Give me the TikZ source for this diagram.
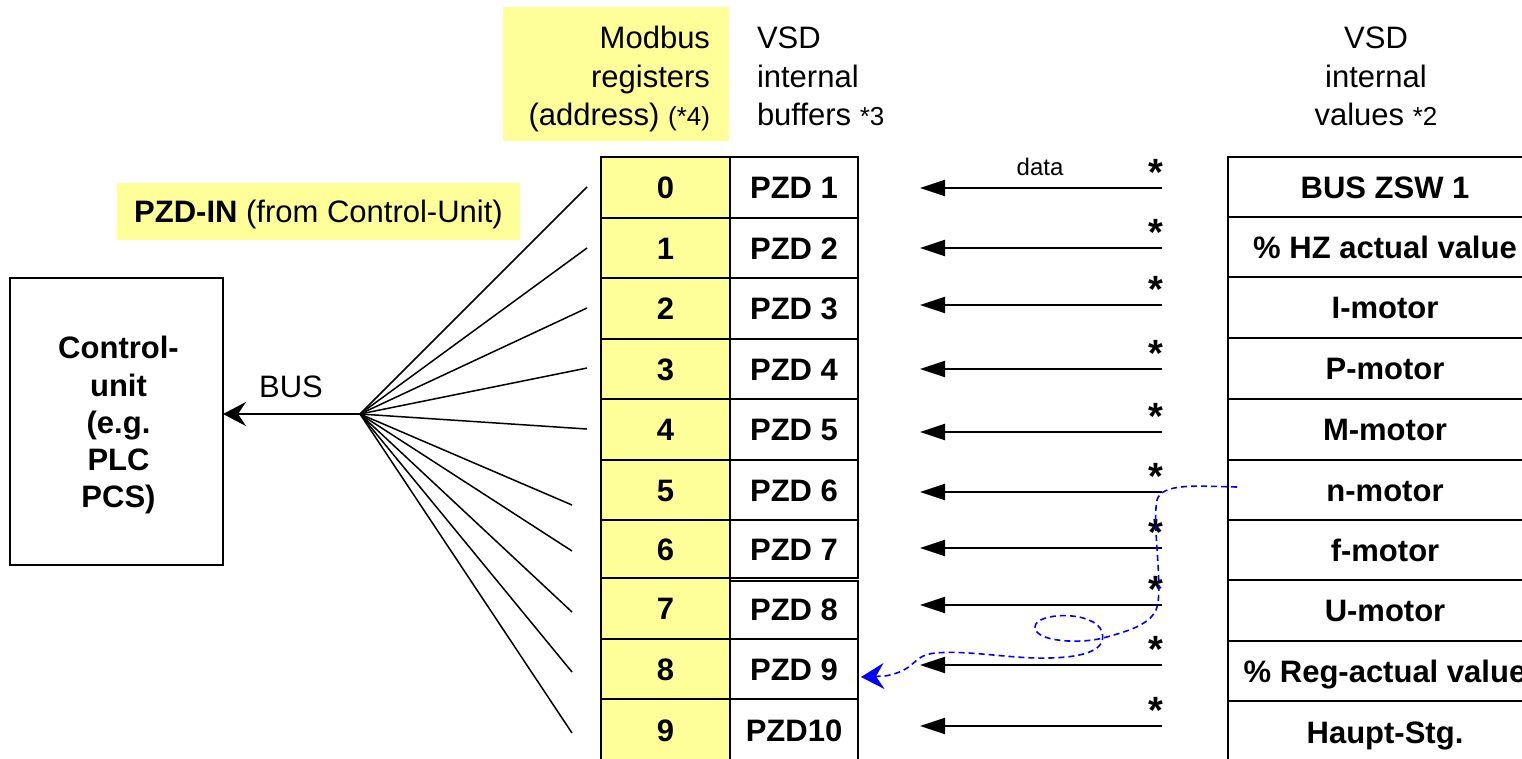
\documentclass[tikz,border=0pt]{standalone}
\usepackage{fontspec}
\setmainfont{Liberation Sans}
\usetikzlibrary{arrows.meta,calc}
\definecolor{yel}{RGB}{255,255,153}
\definecolor{bluec}{RGB}{0,0,255}
\begin{document}
\begin{tikzpicture}[x=1pt,y=-1pt,
  every node/.style={inner sep=0pt, outer sep=0pt},
  bigfont/.style={font=\fontsize{31}{38.5}\selectfont},
  tbl/.style={draw, line width=2pt, font=\bfseries\fontsize{31}{37}\selectfont, text height=22.3pt, text depth=0pt, anchor=north west},
  numcell/.style={tbl, fill=yel, minimum width=129},
  pzdcell/.style={tbl, fill=white, minimum width=128},
  valcell/.style={tbl, fill=white, minimum width=314},
  capc/.style={text height=22.3pt, text depth=0pt},
  fanline/.style={line width=1.5pt},
  dataarrow/.style={line width=2pt, -{Triangle[length=25pt,width=16pt]}},
  busarrow/.style={line width=2pt, -{Stealth[length=23pt,width=24pt,inset=8pt]}},
  bluepath/.style={bluec, line width=1.6pt, dash pattern=on 6pt off 4pt, -{Stealth[length=23pt,width=26pt,inset=8pt]}},
  star/.style={font=\bfseries\fontsize{38}{38}\selectfont, anchor=base}
]
\clip (0,0) rectangle (1522,758);
\fill[white] (0,0) rectangle (1522,758);

% headers
\fill[yel] (503,7) rectangle (729,141);
\node[bigfont, align=right, anchor=east] (hdrA) at (710,79)
  {Modbus\\registers\\(address) {\fontsize{26}{26}\selectfont(*4)}};
\node[bigfont, align=left, anchor=west] (hdrB) at (757,76.5)
  {VSD\\internal\\buffers {\fontsize{26}{26}\selectfont*3}};
\node[bigfont, align=center] (hdrC) at (1376,76.5)
  {VSD\\internal\\values {\fontsize{26}{26}\selectfont*2}};

% PZD-IN label
\node[fill=yel, bigfont, capc, minimum width=403, minimum height=57] (pzdin) at (318.5,211.5)
  {\textbf{PZD-IN} (from Control-Unit)};

% control unit
\node[draw, line width=2pt, minimum width=213, minimum height=287] (ctrl) at (116.5,421.5) {};
\node[align=center, font=\bfseries\fontsize{31}{37.2}\selectfont] (ctrltext) at ($(ctrl.center)+(2,3.8)$)
  {Control-\\unit\\(e.g.\\PLC\\PCS)};

% left table: addresses
\foreach \i/\t/\h in {0/157/61,1/218/60,2/278/61,3/339/60,4/399/61,5/460/60,6/520/58,7/578/61,8/639/60,9/699/62}
  \node[numcell, minimum height=\h] (n\i) at (601,\t) {\i};
% left table: PZD buffers
\foreach \i/\t/\h/\lab in {0/157/61/PZD 1,1/218/60/PZD 2,2/278/61/PZD 3,3/339/60/PZD 4,4/399/61/PZD 5,5/460/60/PZD 6,6/520/58/PZD 7,7/580.5/58.5/PZD 8,8/639/60/PZD 9,9/699/62/PZD10}
  \node[pzdcell, minimum height=\h] (p\i) at (730,\t) {\lab};

% right table: internal values
\foreach \i/\t/\h/\lab in {0/157/60/BUS ZSW 1,1/217/60/\% HZ actual value,2/277/61/I-motor,3/338/61/P-motor,4/399/61/M-motor,5/460/60/n-motor,6/520/60/f-motor,7/580/61/U-motor,8/641/60/\% Reg-actual value,9/701/62/Haupt-Stg.}
  \node[valcell, minimum height=\h] (v\i) at (1228,\t) {\lab};

% data arrows and asterisks
\foreach \i/\y in {0/188,1/248,2/305,3/369,4/432,5/492,6/548,7/605,8/665,9/726}{
  \coordinate (s\i) at (1162,\y);
  \coordinate (e\i) at (920,\y);
  \draw[dataarrow] (s\i) -- (e\i);
  \node[star] (st\i) at ($(s\i)+(-6,-3)$) {*};
}
\node[font=\fontsize{24}{24}\selectfont, text height=17.2pt, text depth=0pt] (data) at (1040,166.5) {data};

% fan of bus lines
\coordinate (hub) at (360,414);
\foreach \i/\x/\y in {0/587/187,1/587/248,2/587/308,3/587/368,4/587/429,5/572/505,6/572/551,7/572/612,8/572/672,9/572/733}{
  \coordinate (f\i) at (\x,\y);
  \draw[fanline] (hub) -- (f\i);
}
\draw[busarrow] (hub) -- (hub -| ctrl.east);
\node[bigfont, capc] (bus) at (291,386) {BUS};

% blue dashed path from n-motor to PZD 9
\coordinate (bs) at ($(v5.west)+(9,-3)$);
\coordinate (bt) at ($(p8.east)+(3,8)$);
\draw[bluepath] (bs)
  .. controls (1195,486) and (1162,483) .. (1157,500)
  .. controls (1152,525) and (1163,585) .. (1157,607)
  .. controls (1152,625) and (1125,632) .. (1103,638)
  .. controls (1080,644) and (1035,642) .. (1035,627)
  .. controls (1035,612) and (1095,610) .. (1102,632)
  .. controls (1107,650) and (1085,657) .. (1050,658)
  .. controls (1010,659) and (970,650) .. (935,653)
  .. controls (910,656) and (918,670) .. (885,676)
  -- (bt);
\end{tikzpicture}
\end{document}
